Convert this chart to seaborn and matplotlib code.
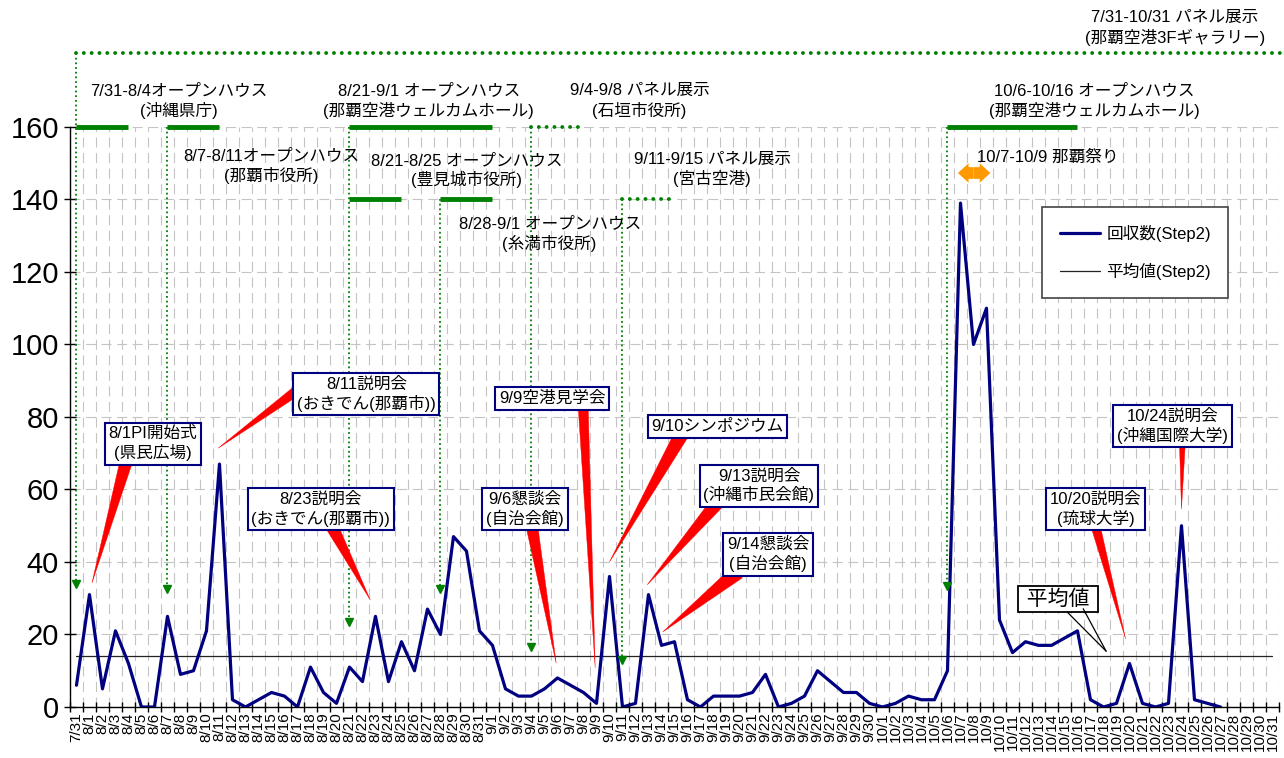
import numpy as np
import pandas as pd
import matplotlib
matplotlib.use('Agg')
import matplotlib.pyplot as plt
import seaborn as sns

nan = np.nan

# ---------------- data ----------------
date_labels = (['7/31']
               + [f'8/{d}' for d in range(1, 32)]
               + [f'9/{d}' for d in range(1, 31)]
               + [f'10/{d}' for d in range(1, 32)])

counts_jul = [6]
counts_aug = [31, 5, 21, 12, 0, 0, 25, 9, 10, 21,
              67, 2, 0, 2, 4, 3, 0, 11, 4, 1,
              11, 7, 25, 7, 18, 10, 27, 20, 47, 43, 21]
counts_sep = [17, 5, 3, 3, 5, 8, 6, 4, 1, 36,
              0, 1, 31, 17, 18, 2, 0, 3, 3, 3,
              4, 9, 0, 1, 3, 10, 7, 4, 4, 1]
counts_oct = [0, 1, 3, 2, 2, 10, 139, 100, 110, 24,
              15, 18, 17, 17, 19, 21, 2, 0, 1, 12,
              1, 0, 1, 50, 2, 1, 0, nan, nan, nan, nan]

series_name = '回収数(Step2)'
avg_name = '平均値(Step2)'

# events: (start, end, level, style)
event_bars = [
    ('7/31', '8/4', 160, 'solid'),
    ('8/7', '8/11', 160, 'solid'),
    ('8/21', '9/1', 160, 'solid'),
    ('8/21', '8/25', 140, 'solid'),
    ('8/28', '9/1', 140, 'solid'),
    ('9/4', '9/8', 160, 'dotted'),
    ('9/11', '9/15', 140, 'dotted'),
    ('10/6', '10/16', 160, 'solid'),
]
event_texts = [
    '7/31-8/4オープンハウス\n(沖縄県庁)',
    '8/7-8/11オープンハウス\n(那覇市役所)',
    '8/21-9/1 オープンハウス\n(那覇空港ウェルカムホール)',
    '8/21-8/25 オープンハウス\n(豊見城市役所)',
    '8/28-9/1 オープンハウス\n(糸満市役所)',
    '9/4-9/8 パネル展示\n(石垣市役所)',
    '9/11-9/15 パネル展示\n(宮古空港)',
    '10/6-10/16 オープンハウス\n(那覇空港ウェルカムホール)',
]
# start date of each event and where its arrow ends
event_arrows = [('7/31', 180.4, 34), ('8/7', 160, 32.5), ('8/21', 160, 23.5),
                ('8/28', 140, 32.5), ('9/4', 160, 16.5), ('9/11', 140, 13),
                ('10/6', 160, 33.5)]

panel_text = '7/31-10/31 パネル展示\n(那覇空港3Fギャラリー)'
festival = ('10/7', '10/9', '10/7-10/9 那覇祭り')

callout_texts = ['8/1PI開始式\n(県民広場)', '8/11説明会\n(おきでん(那覇市))',
                 '8/23説明会\n(おきでん(那覇市))', '9/9空港見学会',
                 '9/6懇談会\n(自治会館)', '9/10シンポジウム',
                 '9/13説明会\n(沖縄市民会館)', '9/14懇談会\n(自治会館)',
                 '10/20説明会\n(琉球大学)', '10/24説明会\n(沖縄国際大学)']

# ---------------- style ----------------
sns.set_style('white')
plt.rcParams['font.family'] = ['Liberation Sans', 'Noto Sans CJK JP']
plt.rcParams['axes.unicode_minus'] = False
plt.rcParams['text.color'] = 'black'

NAVY = '#000080'
GREEN = '#008000'
RED = '#FF0000'
ORANGE = '#FF9900'

fig = plt.figure(figsize=(12.84, 7.58), dpi=100)
ax = fig.add_axes([0.0545, 0.0673, 0.9416, 0.7652])

pos = np.arange(len(date_labels))
counts = counts_jul + counts_aug + counts_sep + counts_oct
df = pd.DataFrame({'pos': pos, 'count': counts})
avg = np.nanmean(np.array(counts, dtype=float))

sns.lineplot(data=df, x='pos', y='count', color=NAVY, lw=2.3, ax=ax,
             label=series_name, zorder=6)
sns.lineplot(x=pos, y=np.full(len(pos), avg), color='#222222', lw=0.9, ax=ax,
             label=avg_name, zorder=5)

ax.set_xlim(-0.5, len(pos) - 0.5)
ax.set_ylim(0, 160)
ax.set_xlabel('')
ax.set_ylabel('')

ax.set_xticks(pos)
ax.set_xticklabels(date_labels, rotation=90, fontsize=11, color='black')
ax.set_xticks(np.arange(-0.5, len(pos)), minor=True)
ax.tick_params(axis='x', which='major', length=0, pad=4, bottom=True)
ax.tick_params(axis='x', which='minor', length=7, width=1, direction='inout',
               color='black', bottom=True)
ax.set_yticks(np.arange(0, 161, 20))
ax.tick_params(axis='y', which='major', labelsize=21, labelcolor='black',
               direction='inout', length=8, width=1, color='black', pad=4, left=True)

ax.grid(which='minor', axis='x', color='#c4c4c4', lw=0.8, linestyle=(0, (9, 5)))
ax.grid(which='major', axis='y', color='#c4c4c4', lw=0.8, linestyle=(0, (9, 5)))
ax.grid(which='major', axis='x', visible=False)
ax.set_axisbelow(True)

for s in ['top', 'right']:
    ax.spines[s].set_visible(False)
for s in ['left', 'bottom']:
    ax.spines[s].set_color('black')
    ax.spines[s].set_linewidth(1)

def xi(d):
    return date_labels.index(d)

# ---- top panel-exhibition line ----
x_right_edge = len(pos) - 0.5 + 0.4
ax.plot([0, x_right_edge], [180.4, 180.4], color=GREEN, lw=2.8,
        linestyle=(0, (0.01, 2.0)), dash_capstyle='round', clip_on=False, zorder=7)
ax.text(84.5, 187.3, panel_text, ha='center', va='center', fontsize=12,
        linespacing=1.25, clip_on=False)

# ---- event bars ----
for s, e, lvl, sty in event_bars:
    if sty == 'solid':
        ax.plot([xi(s), xi(e)], [lvl, lvl], color=GREEN, lw=3.5,
                solid_capstyle='butt', clip_on=False, zorder=7)
    else:
        ax.plot([xi(s), xi(e)], [lvl, lvl], color=GREEN, lw=2.8,
                linestyle=(0, (0.01, 2.0)), dash_capstyle='round',
                clip_on=False, zorder=7)

event_text_pos = [(7.9, 167.2), (15.0, 149.3), (27.1, 167.2), (30.0, 148.0),
                  (36.4, 130.5), (43.3, 167.2), (48.9, 148.2), (78.3, 167.2)]
for t, (tx, ty) in zip(event_texts, event_text_pos):
    ax.text(tx, ty, t, ha='center', va='center', fontsize=12, linespacing=1.25,
            clip_on=False, zorder=8)

# ---- vertical dotted arrows ----
for d, top, bot in event_arrows:
    x = xi(d)
    ax.plot([x, x], [top, bot], color=GREEN, lw=1.3, linestyle=(0, (1, 1.6)),
            clip_on=False, zorder=7)
    ax.plot([x], [bot], marker='v', markersize=5.5, color=GREEN, zorder=7,
            clip_on=False)

# ---- festival double arrow ----
fs, fe, ftext = festival
fmid = (xi(fs) + xi(fe)) / 2
for end in (xi(fs) - 0.2, xi(fe) + 0.3):
    ax.annotate('', xy=(end, 147.3), xytext=(fmid, 147.3),
                arrowprops=dict(arrowstyle='simple,head_length=0.55,head_width=1.0,tail_width=0.6',
                                color=ORANGE, lw=0, mutation_scale=14, shrinkA=0, shrinkB=0),
                zorder=8)
ax.text(74.7, 151.8, ftext, ha='center', va='center', fontsize=12, zorder=8)

# ---- callouts ----
callout_layout = [
    # (box center x, y), (pointer x, y), relpos, tail width
    ((5.88, 72.6), (1.19, 34.2), (0.2, 0.0), 0.75),
    ((22.3, 86.3), (10.9, 71.4), (0.0, 0.6), 0.6),
    ((18.8, 54.6), (22.6, 29.5), (0.58, 0.0), 0.75),
    ((36.6, 85.1), (39.9, 10.8), (0.79, 0.0), 0.6),
    ((34.5, 54.6), (36.9, 12.1), (0.59, 0.0), 0.7),
    ((49.3, 77.4), (41.0, 40.0), (0.23, 0.0), 0.85),
    ((52.5, 61.0), (43.9, 33.7), (0.12, 0.0), 0.8),
    ((53.2, 42.1), (45.1, 20.7), (0.13, 0.0), 0.9),
    ((78.4, 54.6), (80.7, 18.8), (0.5, 0.0), 0.55),
    ((84.3, 77.5), (85.0, 54.6), (0.59, 0.0), 0.35),
]
for t, (bc, pt, rp, tw) in zip(callout_texts, callout_layout):
    ax.annotate(t, xy=pt, xytext=bc, ha='center', va='center', fontsize=12,
                linespacing=1.2, zorder=9,
                bbox=dict(boxstyle='square,pad=0.22', fc='white', ec=NAVY, lw=1.5),
                arrowprops=dict(arrowstyle=f'wedge,tail_width={tw},shrink_factor=0.5',
                                fc=RED, ec=RED, lw=0.3, relpos=rp, patchA=None,
                                shrinkA=0, shrinkB=0))

# ---- 平均値 callout ----
avg_tip = (79.2, 15.4)
ax.annotate(' 平均値 ', xy=avg_tip, xytext=(75.5, 29.8), ha='center', va='center',
            fontsize=15, zorder=9,
            bbox=dict(boxstyle='square,pad=0.15', fc='white', ec='black', lw=1.3),
            arrowprops=dict(arrowstyle='-', color='black', lw=0.9, relpos=(0.58, 0.0),
                            patchA=None, shrinkA=0, shrinkB=0))
ax.annotate(' 平均値 ', xy=avg_tip, xytext=(75.5, 29.8), ha='center', va='center',
            fontsize=15, zorder=9, color='none',
            bbox=dict(boxstyle='square,pad=0.15', fc='none', ec='none', lw=0),
            arrowprops=dict(arrowstyle='-', color='black', lw=0.9, relpos=(0.84, 0.0),
                            patchA=None, shrinkA=0, shrinkB=0))

# ---- legend ----
leg = ax.legend(loc='upper left', bbox_to_anchor=(0.804, 0.862), borderaxespad=0,
                fontsize=12, frameon=True, fancybox=False, edgecolor='#444444',
                framealpha=1, handlelength=2.4, labelspacing=1.3, borderpad=1.05,
                handletextpad=0.4)
leg.get_frame().set_linewidth(1.2)
leg.set_zorder(10)

fig.savefig('out.png', dpi=100)
